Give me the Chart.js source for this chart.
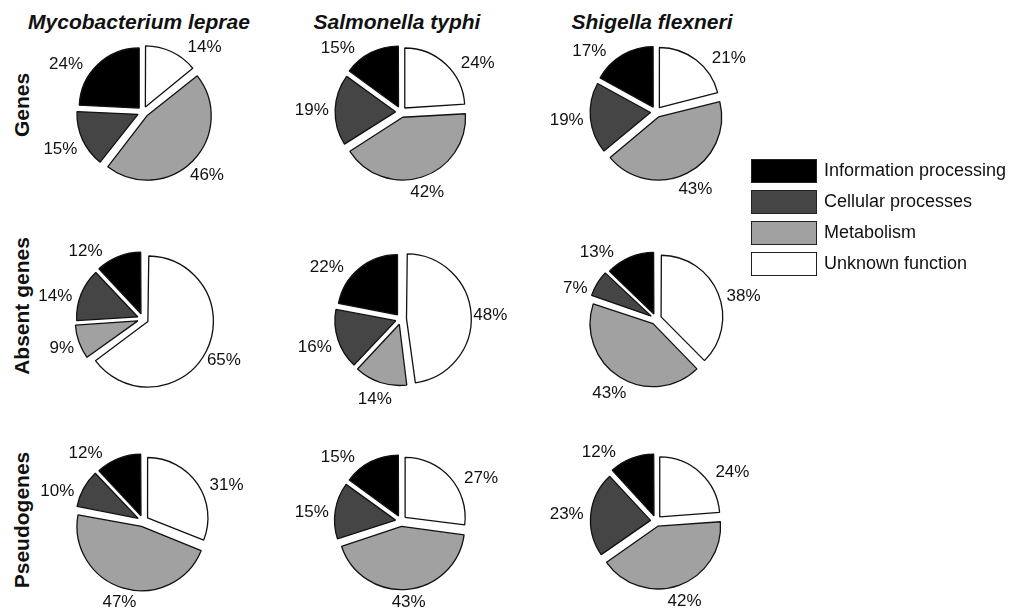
<!DOCTYPE html>
<html>
<head>
<meta charset="utf-8">
<script src="https://cdn.jsdelivr.net/npm/chart.js@4/dist/chart.umd.min.js"></script>
<style>
  body { margin: 0; background: #fff; font-family: "Liberation Sans", Arial, sans-serif; }
  #wrap { position: relative; width: 1014px; height: 612px; overflow: hidden; }
  #wrap canvas { position: absolute; }
  .title { position: absolute; top: 10px; width: 300px; text-align: center; font: italic bold 21px "Liberation Sans", Arial, sans-serif; color: #111; }
  .rowlab { position: absolute; width: 200px; text-align: center; font: bold 21px "Liberation Sans", Arial, sans-serif; color: #111;
            transform: translate(-50%, -50%) rotate(-90deg); }
  #legend { position: absolute; left: 751px; top: 155px; z-index: 2; }
  .item { display: flex; align-items: center; height: 31px; }
  .box { width: 64px; height: 22px; border: 1px solid #222; margin-right: 7px; }
  .item span { font-size: 18px; color: #111; }
</style>
</head>
<body>
<div id="wrap"></div>
<script>
// ========== DATA ==========
const species = ['Mycobacterium leprae', 'Salmonella typhi', 'Shigella flexneri'];
const rowNames = ['Genes', 'Absent genes', 'Pseudogenes'];
const categories = ['Information processing', 'Cellular processes', 'Metabolism', 'Unknown function'];
const colors = ['#000000', '#454545', '#a1a1a1', '#ffffff'];

// percentages per species, in category order
const genes = [[24, 15, 46, 14], [15, 19, 42, 24], [17, 19, 43, 21]];
const absentGenes = [[12, 14, 9, 65], [22, 16, 14, 48], [13, 7, 43, 38]];
const pseudogenes = [[12, 10, 47, 31], [15, 15, 43, 27], [12, 23, 42, 24]];
const rows = [genes, absentGenes, pseudogenes];

// ========== LAYOUT ==========
const colX = [143, 401, 656];
const rowY = [112, 319, 521];
const W = 250, H = 200, R = 60;

const wrap = document.getElementById('wrap');

// outside percentage labels
const pctLabels = {
  id: 'pctLabels',
  afterDatasetsDraw(chart) {
    const ctx = chart.ctx;
    const meta = chart.getDatasetMeta(0);
    const values = chart.data.datasets[0].data;
    ctx.save();
    ctx.font = '17px "Liberation Sans", Arial, sans-serif';
    ctx.fillStyle = '#111';
    ctx.textAlign = 'center';
    ctx.textBaseline = 'middle';
    meta.data.forEach((arc, i) => {
      const { x, y, startAngle, endAngle, outerRadius } = arc.getProps(['x', 'y', 'startAngle', 'endAngle', 'outerRadius'], true);
      // angle from 12 o'clock, clockwise
      let t = (startAngle + endAngle) / 2 + Math.PI / 2;
      // labels in the upper half lean away from the top
      if (Math.cos(t) > 0) t += Math.sign(Math.sin(t)) * (20 * Math.PI / 180) * Math.cos(t);
      const dx = Math.sin(t), dy = -Math.cos(t);
      const txt = values[i] + '%';
      const w = ctx.measureText(txt).width;
      const d = outerRadius + 12 + (w / 2) * Math.abs(dx) + 8 * Math.abs(dy);
      ctx.fillText(txt, x + dx * d, y + dy * d);
    });
    ctx.restore();
  }
};

species.forEach((name, c) => {
  const t = document.createElement('div');
  t.className = 'title';
  t.style.left = (colX[c] - 150 - 4) + 'px';
  t.textContent = name;
  wrap.appendChild(t);
});

rowNames.forEach((name, r) => {
  const l = document.createElement('div');
  l.className = 'rowlab';
  l.style.left = '22px';
  l.style.top = [105, 306, 520][r] + 'px';
  l.textContent = name;
  wrap.appendChild(l);
});

rows.forEach((row, r) => {
  row.forEach((vals, c) => {
    const cv = document.createElement('canvas');
    cv.width = W; cv.height = H;
    cv.style.left = (colX[c] - W / 2) + 'px';
    cv.style.top = (rowY[r] - H / 2) + 'px';
    wrap.appendChild(cv);
    // clockwise from 12 o'clock: unknown, metabolism, cellular, information
    new Chart(cv, {
      type: 'pie',
      data: {
        labels: categories.slice().reverse(),
        datasets: [{
          data: vals.slice().reverse(),
          backgroundColor: colors.slice().reverse(),
          borderColor: '#111',
          borderWidth: 1.3,
          offset: 22
        }]
      },
      options: {
        responsive: false,
        animation: false,
        events: [],
        radius: R,
        plugins: { legend: { display: false }, tooltip: { enabled: false } }
      },
      plugins: [pctLabels]
    });
  });
});

// ========== LEGEND ==========
const legend = document.createElement('div');
legend.id = 'legend';
categories.forEach((cat, i) => {
  const it = document.createElement('div');
  it.className = 'item';
  it.innerHTML = `<div class="box" style="background:${colors[i]}"></div><span>${cat}</span>`;
  legend.appendChild(it);
});
wrap.appendChild(legend);
</script>
</body>
</html>
